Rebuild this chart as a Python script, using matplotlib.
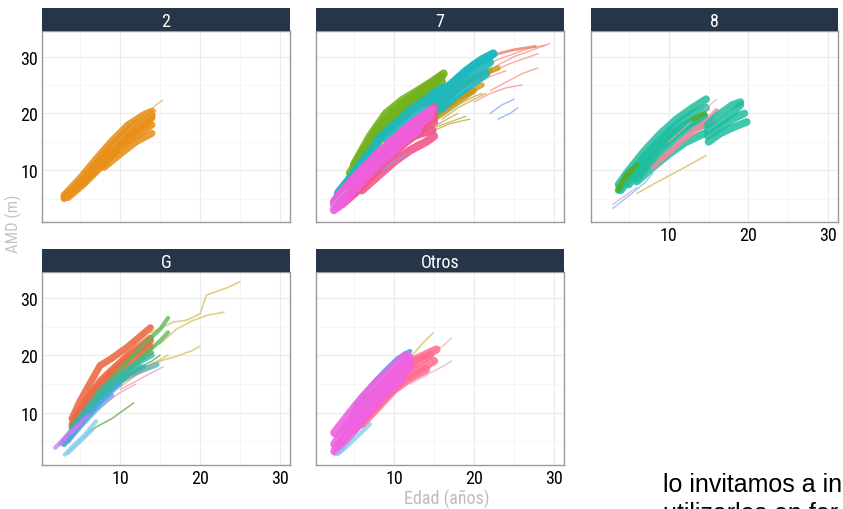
import matplotlib
matplotlib.use("Agg")
import matplotlib.pyplot as plt
from matplotlib import font_manager

# ---- data: growth curves (age in years, dominant height in m) per facet ----
FACETS = ["2", "7", "8", "G", "Otros"]
X_TICKS = [10, 20, 30]
Y_TICKS = [10, 20, 30]
X_LABEL = "Edad (años)"
Y_LABEL = "AMD (m)"
NOTE_LINES = ["lo invitamos a in", "utilizarlos en for"]

CURVES_2 = [
    ("orange", [3, 5, 7, 9, 11, 13, 14], [5.0, 7.4, 10.0, 12.6, 15.0, 17.0, 18.0]),
    ("orange", [3, 5, 7, 9, 11, 13, 14], [5.6, 8.6, 12.0, 15.2, 18.0, 19.8, 20.4]),
    ("orange", [3.5, 5.5, 7.5, 9.5, 11.5, 13.5], [5.2, 7.6, 10.4, 13.4, 16.2, 18.4]),
    ("orange", [4, 6, 8, 10, 12, 14], [6.2, 9.4, 12.8, 15.8, 18.2, 19.8]),
    ("orange", [3, 4.5, 6.5, 8.5, 10.5, 12.5, 14], [5.3, 7.2, 10.0, 12.8, 15.6, 17.8, 19.2]),
    ("orange", [5, 7, 9, 11, 13, 14], [7.8, 10.8, 13.8, 16.6, 18.8, 19.6]),
    ("orange", [8, 10, 12, 14], [10.5, 12.8, 15.0, 16.5]),
    ("orange-thin", [9, 11, 13, 14.5, 15.3], [14.0, 17.0, 19.5, 21.5, 22.3]),
    ("orange-thin", [10, 12, 14], [13.5, 15.0, 16.5]),
    ("orange-thin", [12, 13.5, 14.5], [17.5, 19.5, 20.5]),
]

CURVES_7 = [
    ("salmon-thin", [19, 21, 23, 25, 27, 29], [26.0, 28.0, 29.5, 30.5, 31.5, 32.0]),
    ("salmon-thin", [20, 22, 24, 26, 28], [25.0, 27.0, 28.5, 29.5, 30.5]),
    ("salmon-thin", [21, 23, 25, 27, 29.5], [26.5, 28.5, 30.0, 31.0, 32.3]),
    ("salmon-thin", [22, 24, 26, 28], [24.0, 25.5, 27.0, 28.0]),
    ("salmon-thin", [18, 20, 22, 24], [23.0, 25.0, 26.5, 27.5]),
    ("salmon-thin", [20, 22, 24, 26], [22.0, 23.5, 24.5, 25.0]),
    ("salmon-thin", [5, 7, 9, 11, 13], [5.5, 8.0, 10.5, 13.0, 15.0]),
    ("salmon", [19, 21, 23, 25, 27.7], [27.0, 29.0, 30.5, 31.2, 31.8]),
    ("gold", [12, 14, 16, 18, 20], [16.0, 18.0, 20.0, 22.0, 24.0]),
    ("gold", [13, 15, 17, 19, 21], [17.0, 19.5, 21.5, 23.5, 25.0]),
    ("gold", [15, 17, 19, 21, 23], [21.0, 23.5, 25.5, 27.0, 28.0]),
    ("gold", [14, 16, 18, 20], [18.5, 20.5, 22.5, 24.0]),
    ("gold", [16, 18, 20, 22], [22.5, 24.5, 26.0, 27.5]),
    ("gold-thin", [12, 14, 16, 18], [15.0, 17.0, 18.5, 20.0]),
    ("gold-thin", [11, 13, 15, 17, 19], [14.5, 16.0, 17.5, 18.5, 19.5]),
    ("gold-thin", [13, 15, 17, 19.5], [15.5, 17.0, 18.2, 19.0]),
    ("gold-thin", [14, 16, 18, 20, 21], [17.5, 19.5, 21.5, 23.0, 23.5]),
    ("gold-thin", [16, 18, 20, 21.5], [19.0, 21.0, 22.5, 23.5]),
    ("green", [5, 7, 9, 11, 13, 15, 16.2], [11.0, 16.0, 20.0, 22.3, 24.0, 25.8, 27.0]),
    ("green", [5, 7, 9, 11, 13, 15], [10.0, 14.5, 18.0, 20.5, 22.5, 24.5]),
    ("green", [6, 8, 10, 12, 14, 16], [12.0, 16.5, 19.5, 21.5, 23.5, 25.5]),
    ("green", [7, 9, 11, 13, 15], [13.0, 17.0, 19.5, 21.5, 23.0]),
    ("green", [4.5, 6, 8, 10, 12, 14], [9.5, 13.0, 17.5, 20.5, 22.5, 24.5]),
    ("green", [8, 10, 12, 14, 16], [17.0, 20.5, 22.5, 24.5, 26.5]),
    ("teal", [2.8, 4, 6, 8], [5.0, 7.5, 11.5, 15.0]),
    ("teal", [3, 5, 7], [6.0, 9.5, 13.0]),
    ("teal", [8, 10, 12, 14, 16], [15.5, 18.0, 20.5, 22.5, 24.5]),
    ("teal", [9, 11, 13, 15], [15.5, 18.0, 20.0, 22.0]),
    ("teal", [14.5, 16, 18, 20, 22.4], [21.5, 23.5, 26.0, 28.5, 30.5]),
    ("teal", [14.5, 16, 18, 20, 22], [20.0, 22.0, 24.5, 27.0, 29.0]),
    ("teal", [15, 17, 19, 21, 22.4], [22.5, 25.0, 27.5, 29.5, 30.5]),
    ("teal", [14, 16, 18, 20, 21.5], [19.5, 21.0, 23.5, 25.5, 27.0]),
    ("teal", [16, 18, 20, 22], [23.5, 26.0, 28.5, 30.0]),
    ("pink", [4, 6, 8, 10, 12, 14, 15], [5.0, 8.0, 11.0, 13.8, 16.2, 18.5, 19.5]),
    ("pink", [5, 7, 9, 11, 13, 15], [6.0, 9.0, 12.0, 14.5, 16.8, 18.5]),
    ("pink", [4.5, 6.5, 8.5, 10.5, 12.5, 14.8], [5.5, 8.5, 11.5, 14.0, 16.2, 17.0]),
    ("pink", [6, 8, 10, 12, 14, 15], [9.0, 12.5, 15.5, 17.8, 19.8, 21.0]),
    ("pink", [3.5, 5.5, 7.5, 9.5, 11.5, 13.5], [4.0, 6.5, 9.5, 12.5, 15.0, 17.0]),
    ("pink", [7, 9, 11, 13, 15], [10.0, 13.0, 15.5, 18.0, 20.0]),
    ("pink", [6, 8, 10, 12, 14, 15], [6.5, 9.0, 11.5, 13.5, 15.0, 16.0]),
    ("magenta", [2.5, 4, 6, 8, 10, 12, 14.5], [3.0, 5.5, 8.5, 11.5, 14.2, 16.8, 19.5]),
    ("magenta", [2.5, 4, 6, 8, 10, 12, 14.5], [4.5, 7.0, 10.2, 13.0, 15.5, 18.0, 20.5]),
    ("magenta", [3, 5, 7, 9, 11, 13], [3.5, 6.5, 9.5, 12.2, 14.8, 17.0]),
    ("magenta", [3, 5, 7, 9, 11, 13, 14.8], [5.5, 8.5, 11.5, 14.2, 16.6, 18.8, 20.8]),
    ("magenta", [2.5, 3.5, 5, 7, 9, 11], [4.0, 5.5, 8.0, 11.0, 14.0, 16.5]),
    ("blue-thin", [22, 23.5, 25], [20.0, 21.5, 22.5]),
    ("blue-thin", [23, 24.5, 25.5], [19.0, 20.0, 21.0]),
    ("blue-thin", [8.5, 10, 11.5], [10.0, 11.5, 12.8]),
    ("violet-thin", [2, 2.7, 4], [3.2, 4.6, 6.5]),
]

CURVES_8 = [
    ("teal8", [3.7, 5, 7, 9, 11, 13, 14.7], [7.5, 10.0, 13.5, 16.5, 19.0, 21.0, 22.5]),
    ("teal8", [3.7, 5, 7, 9, 11, 13, 14.7], [6.5, 9.0, 12.5, 15.5, 18.0, 20.0, 21.0]),
    ("teal8", [4, 6, 8, 10, 12, 14.5], [6.5, 10.0, 13.5, 16.0, 18.0, 19.5]),
    ("teal8", [5, 7, 9, 11, 13, 14.5], [7.5, 11.0, 14.0, 16.5, 18.5, 19.5]),
    ("teal8", [6, 8, 10, 12, 14.5], [8.5, 12.0, 14.5, 17.0, 18.0]),
    ("teal8", [6, 8, 10, 12, 14.5], [8.0, 10.5, 12.8, 14.8, 16.5]),
    ("pink8", [8, 10, 12, 14, 15.5], [10.5, 13.0, 15.5, 17.5, 19.0]),
    ("pink8", [9, 11, 13, 15, 16], [12.0, 14.5, 17.0, 19.0, 20.5]),
    ("pink8-thin", [10, 12, 14, 16], [15.0, 17.5, 20.0, 22.5]),
    ("green8", [3.7, 4.5, 6], [6.5, 9.0, 11.0]),
    ("green8", [3.7, 4.5, 5.5], [7.0, 8.5, 10.0]),
    ("green8", [13, 14.5], [19.0, 20.0]),
    ("teal8", [14.9, 16, 17, 18, 19], [17.0, 18.0, 19.0, 20.0, 21.5]),
    ("teal8", [14.9, 16, 17, 18, 19.5], [16.0, 17.0, 18.0, 19.0, 20.0]),
    ("teal8", [14.9, 16, 17, 18, 19], [18.0, 19.5, 20.5, 21.5, 22.0]),
    ("teal8", [15, 16.5, 18, 19.8], [15.0, 16.5, 17.5, 18.5]),
    ("khaki-thin", [6, 8, 10, 12, 14.7], [5.9, 7.5, 9.0, 10.5, 12.6]),
    ("lightblue-thin", [3, 5, 7, 8], [3.3, 5.5, 7.8, 9.5]),
    ("violet-thin", [3, 4.5, 6], [4.0, 5.5, 7.0]),
]

CURVES_G = [
    ("khaki-thin", [13.8, 16.7, 18.3, 20, 20.8, 23.3, 25], [23.9, 25.8, 26.1, 27.2, 30.5, 31.7, 32.8]),
    ("khaki-thin", [15, 17, 19, 21, 23], [22.0, 24.5, 26.0, 27.0, 27.5]),
    ("khaki-thin", [15, 17, 19, 20], [19.0, 19.8, 20.8, 21.6]),
    ("khaki-thin", [10, 12, 14, 16], [14.5, 16.5, 18.5, 20.0]),
    ("red", [4, 5, 6, 7.5, 9, 11, 13.8], [9.0, 12.0, 14.5, 18.2, 19.5, 21.5, 24.8]),
    ("red", [4, 5, 6, 7.5, 9, 11, 13.8], [8.0, 10.5, 12.5, 15.5, 17.5, 20.0, 23.0]),
    ("red", [4.5, 6, 7.5, 9, 11, 13.8], [9.5, 12.5, 15.0, 17.0, 19.5, 22.5]),
    ("red", [4, 5.5, 7.5, 9.5, 12, 13.8], [7.5, 10.5, 14.5, 17.0, 19.5, 21.5]),
    ("greenG", [7, 9, 11, 13, 15, 16], [13.0, 16.0, 19.0, 22.0, 24.5, 26.5]),
    ("greenG", [7, 9, 11, 13, 15, 16], [12.0, 15.0, 17.5, 20.0, 22.5, 24.0]),
    ("greenG", [6, 8, 10, 12, 14], [10.0, 14.0, 16.5, 18.5, 20.5]),
    ("greenG-thin", [5.8, 7, 9, 10.5, 11.7], [6.2, 7.5, 9.0, 10.5, 11.7]),
    ("greenG-thin", [8, 10, 12, 14, 15], [13.0, 15.5, 17.5, 19.0, 20.0]),
    ("tealG", [2.9, 4, 6, 8, 10, 12, 14.6], [5.0, 7.0, 10.5, 13.5, 15.5, 17.0, 18.4]),
    ("tealG", [3, 4.5, 6.5, 8.5, 10.5, 12.5], [4.5, 7.0, 10.5, 13.5, 16.0, 18.0]),
    ("tealG", [3.5, 5, 7, 9, 11, 13], [5.5, 8.0, 11.5, 14.5, 16.5, 18.0]),
    ("tealG", [4, 6, 8, 10, 12, 14], [7.5, 11.0, 14.5, 16.5, 18.5, 20.0]),
    ("blueG", [3, 4.5, 6, 8, 10], [4.5, 7.0, 9.5, 12.5, 15.0]),
    ("blueG", [3.5, 5, 7, 9], [5.0, 7.5, 10.5, 13.0]),
    ("lightblue", [3.1, 4, 5.5, 7], [2.7, 4.0, 6.0, 8.5]),
    ("lightblue", [3.5, 5, 6.5], [3.0, 5.0, 7.0]),
    ("purple", [1.9, 3, 4.5, 6], [3.9, 5.5, 7.5, 9.5]),
    ("purple", [2.5, 3.5, 5], [4.5, 6.0, 8.0]),
    ("pinkG-thin", [10, 12, 14, 15.4], [14.0, 15.5, 17.0, 18.0]),
    ("pinkG-thin", [11, 13, 15], [16.0, 17.5, 19.0]),
    ("pinkG-thin", [8, 10, 12], [11.5, 13.5, 15.0]),
]

CURVES_OTROS = [
    ("khaki-thin", [10, 12, 13.5, 14.9], [17.0, 19.5, 22.0, 23.9]),
    ("lightpink-thin", [12, 14, 16, 17.2], [18.0, 20.0, 21.5, 23.0]),
    ("lightpink-thin", [12, 14, 16, 17.2], [15.0, 16.5, 18.0, 19.0]),
    ("blueO", [4, 5.3, 7, 9, 10.5, 12], [7.0, 11.4, 14.5, 17.5, 19.5, 20.7]),
    ("blueO", [4, 5.5, 7.5, 9.5, 11.5], [6.5, 10.0, 13.5, 16.5, 19.0]),
    ("pinkO", [5, 7, 9, 11, 13, 15], [7.0, 10.0, 13.0, 15.5, 17.5, 19.0]),
    ("pinkO", [5, 7, 9, 11, 13, 14.5], [8.0, 11.5, 14.5, 17.0, 19.0, 20.0]),
    ("pinkO", [6, 8, 10, 12, 14], [8.0, 11.0, 14.0, 16.0, 17.5]),
    ("pinkO", [7, 9, 11, 13, 15.3], [11.0, 14.5, 17.5, 19.5, 21.0]),
    ("magentaO", [2.6, 4, 6, 8, 10, 12], [3.3, 6.0, 9.5, 13.0, 15.5, 18.0]),
    ("magentaO", [2.6, 4, 6, 8, 10, 12], [4.5, 7.5, 11.0, 14.0, 17.0, 19.5]),
    ("magentaO", [2.6, 4, 6, 8, 10, 11.5], [6.5, 9.0, 12.5, 15.5, 18.0, 20.0]),
    ("magentaO", [3, 5, 7, 9, 11], [3.5, 7.0, 10.5, 13.5, 16.0]),
    ("lightblue", [3, 4, 5.5, 7], [2.8, 4.0, 6.0, 8.0]),
]

PANEL_CURVES = {"2": CURVES_2, "7": CURVES_7, "8": CURVES_8, "G": CURVES_G, "Otros": CURVES_OTROS}

# ---- styles: group -> (colour, linewidth, alpha) ----
STYLE = {
    "orange": ("#E8901A", 5.0, 0.9), "orange-thin": ("#EBA040", 1.0, 0.7),
    "salmon": ("#F37B68", 2.0, 0.8), "salmon-thin": ("#F6907F", 1.0, 0.75),
    "gold": ("#C49A1C", 4.0, 0.8), "gold-thin": ("#B5A22C", 1.0, 0.7),
    "green": ("#72B21C", 6.0, 0.9), "teal": ("#1DB8C0", 6.0, 0.9),
    "pink": ("#F2568E", 6.0, 0.9), "magenta": ("#EE5FDC", 6.0, 0.9),
    "blue-thin": ("#7BA6EE", 1.0, 0.75), "violet-thin": ("#B9A6E8", 1.0, 0.7),
    "teal8": ("#1EBE9E", 5.5, 0.85), "pink8": ("#EE8A9E", 3.5, 0.8),
    "pink8-thin": ("#F3A0B0", 1.0, 0.7), "green8": ("#4DAF2F", 3.5, 0.9),
    "khaki-thin": ("#D9C36A", 1.2, 0.8), "lightblue-thin": ("#8DB6EA", 1.0, 0.8),
    "red": ("#EC6A46", 5.0, 0.9), "greenG": ("#5CB85A", 3.0, 0.8),
    "greenG-thin": ("#6BB257", 1.2, 0.8), "tealG": ("#34B6A9", 4.0, 0.75),
    "blueG": ("#4FA5E2", 3.5, 0.75), "lightblue": ("#86CDEE", 3.0, 0.8),
    "purple": ("#C37CF5", 3.0, 0.75), "pinkG-thin": ("#F08AB0", 1.0, 0.7),
    "lightpink-thin": ("#F7A6B8", 1.0, 0.75), "blueO": ("#3FA4EE", 3.5, 0.85),
    "pinkO": ("#FF6B8E", 6.0, 0.85), "magentaO": ("#F062E0", 6.5, 0.9),
}


def pick_font(names):
    available = {f.name for f in font_manager.fontManager.ttflist}
    for n in names:
        if n in available:
            return n
    return "DejaVu Sans"


NARROW = pick_font(["Liberation Sans Narrow", "Roboto Condensed", "Roboto"])
ARIAL = pick_font(["Liberation Sans", "Arial"])

W, H = 843, 510
# plot-area boxes in pixels: left, top, right, bottom
BOX = {
    "2": (42, 32, 290, 223), "7": (316, 32, 564, 223), "8": (591, 32, 838, 223),
    "G": (42, 273, 290, 466), "Otros": (316, 273, 564, 466),
}
STRIP_H = 23

fig = plt.figure(figsize=(W / 100, H / 100), dpi=100)
fig.patch.set_facecolor("white")

for name in FACETS:
    l, t, r, b = BOX[name]
    ax = fig.add_axes([l / W, 1 - b / H, (r - l) / W, (b - t) / H])
    for grp, ages, heights in PANEL_CURVES[name]:
        color, lw, alpha = STYLE[grp]
        ax.plot(ages, heights, color=color, lw=lw, alpha=alpha,
                solid_capstyle="round", solid_joinstyle="round")
    ax.set_xlim(0.25, 31.25)
    ax.set_ylim(0.9, 34.5)
    ax.set_xticks(X_TICKS)
    ax.set_yticks(Y_TICKS)
    ax.set_xticks([5, 15, 25], minor=True)
    ax.set_yticks([5, 15, 25], minor=True)
    ax.grid(True, which="major", color="#ebebeb", lw=0.8)
    ax.grid(True, which="minor", color="#f5f5f5", lw=0.6)
    ax.set_axisbelow(True)
    ax.tick_params(which="both", length=0, pad=3, labelsize=13, labelcolor="black")
    for lab in ax.get_xticklabels() + ax.get_yticklabels():
        lab.set_fontfamily(NARROW)
    for s in ax.spines.values():
        s.set_color("#9a9a9a")
        s.set_linewidth(1.0)
    if name not in ("2", "G"):
        ax.tick_params(labelleft=False)
    if name in ("2", "7"):
        ax.tick_params(labelbottom=False)

    sax = fig.add_axes([l / W, 1 - t / H, (r - l) / W, STRIP_H / H])
    sax.set_facecolor("#263648")
    sax.set_xticks([])
    sax.set_yticks([])
    for s in sax.spines.values():
        s.set_visible(False)
    sax.text(0.5, 0.45, name, ha="center", va="center", color="white",
             fontsize=13, family=NARROW, transform=sax.transAxes)

fig.text(447 / W, 1 - 499 / H, X_LABEL, ha="center", va="center",
         fontsize=13, color="#bdbdbd", family=NARROW)
fig.text(13 / W, 1 - 224 / H, Y_LABEL, ha="center", va="center", rotation=90,
         fontsize=12, color="#c4c4c4", family=NARROW)

fig.text(663 / W, 1 - 492 / H, NOTE_LINES[0], ha="left", va="baseline",
         fontsize=18, color="black", family=ARIAL)
fig.text(663 / W, 1 - 521 / H, NOTE_LINES[1], ha="left", va="baseline",
         fontsize=18, color="black", family=ARIAL)

fig.savefig("out.png", dpi=100)
